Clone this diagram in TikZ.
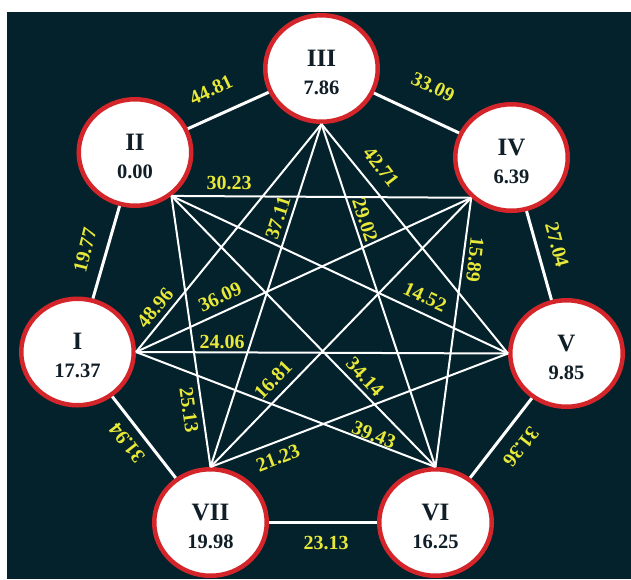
\documentclass[tikz,border=0pt]{standalone}
\usepackage{fontspec}
\setmainfont{Liberation Serif}
\usetikzlibrary{shapes.geometric}

\definecolor{bgdark}{RGB}{3,34,44}
\definecolor{ringred}{RGB}{212,38,42}
\definecolor{labelyellow}{RGB}{232,232,56}
\definecolor{inkdark}{RGB}{16,30,40}

\begin{document}
\begin{tikzpicture}[x=1pt,y=1pt,
  vertex/.style={ellipse, draw=ringred, fill=white, line width=4.5pt,
    minimum width=112.5pt, minimum height=106.5pt, inner sep=0pt},
  vtext/.style={align=center, text=inkdark, inner sep=0pt,
    font=\bfseries\fontsize{20.5}{28}\selectfont},
  rimedge/.style={draw=white, line width=3pt},
  chord/.style={draw=white, line width=2pt},
  wlabel/.style={text=labelyellow, inner sep=0pt,
    font=\bfseries\fontsize{20}{20}\selectfont}]

\useasboundingbox (0,0) rectangle (631,-579);
\fill[bgdark] (7,-12) rectangle (631,-579);

% vertices
\node[vertex] (n3) at (321.5,-68.5) {};
\node[vertex] (n2) at (135,-152.5) {};
\node[vertex] (n4) at (511.5,-157.5) {};
\node[vertex] (n1) at (77.5,-352) {};
\node[vertex] (n5) at (566.5,-353.5) {};
\node[vertex] (n7) at (210.5,-522.5) {};
\node[vertex] (n6) at (435.5,-522.5) {};

\node[vtext] (t3) at ([yshift=-3.5pt]n3.center) {{\fontsize{25}{28}\selectfont III}\\7.86};
\node[vtext] (t2) at ([yshift=-3.5pt]n2.center) {{\fontsize{25}{28}\selectfont II}\\0.00};
\node[vtext] (t4) at ([yshift=-3.5pt]n4.center) {{\fontsize{25}{28}\selectfont IV}\\6.39};
\node[vtext] (t1) at ([yshift=-3.5pt]n1.center) {{\fontsize{25}{28}\selectfont I}\\17.37};
\node[vtext] (t5) at ([yshift=-3.5pt]n5.center) {{\fontsize{25}{28}\selectfont V}\\9.85};
\node[vtext] (t7) at ([yshift=-3.5pt]n7.center) {{\fontsize{25}{28}\selectfont VII}\\19.98};
\node[vtext] (t6) at ([yshift=-3.5pt]n6.center) {{\fontsize{25}{28}\selectfont VI}\\16.25};

% outer ring of the heptagon
\draw[rimedge] (n2) -- (n3);
\draw[rimedge] (n3) -- (n4);
\draw[rimedge] (n4) -- (n5);
\draw[rimedge] (n5) -- (n6);
\draw[rimedge] (n6) -- (n7);
\draw[rimedge] (n7) -- (n1);
\draw[rimedge] (n1) -- (n2);

% inner chords
\draw[chord] (n3.south) -- (n1.east);
\draw[chord] (n3.south) -- (n5.west);
\draw[chord] (n3.south) -- (n7.north);
\draw[chord] (n3.south) -- (n6.north);
\draw[chord] (n2.-50) -- (n4.-135);
\draw[chord] (n2.-50) -- (n5.west);
\draw[chord] (n2.-50) -- (n7.north);
\draw[chord] (n2.-50) -- (n6.north);
\draw[chord] (n4.-135) -- (n1.east);
\draw[chord] (n4.-135) -- (n7.north);
\draw[chord] (n4.-135) -- (n6.north);
\draw[chord] (n1.east) -- (n5.west);
\draw[chord] (n1.east) -- (n6.north);
\draw[chord] (n5.west) -- (n7.north);

% weights on the outer ring
\node[wlabel, rotate=25]   (w23) at (211,-90)  {44.81};
\node[wlabel, rotate=-25]  (w34) at (433,-87)  {33.09};
\node[wlabel, rotate=76]   (w12) at (85,-250)  {19.77};
\node[wlabel, rotate=-75]  (w45) at (557,-245) {27.04};
\node[wlabel, rotate=128]  (w17) at (127,-443) {31.94};
\node[wlabel, rotate=-128] (w56) at (521,-447) {31.36};
\node[wlabel]              (w67) at (326,-543) {23.13};

% weights on the chords
\node[wlabel]              (w24) at (229,-183) {30.23};
\node[wlabel, rotate=-52]  (w35) at (381,-167) {42.71};
\node[wlabel, rotate=72]   (w37) at (278,-218) {37.11};
\node[wlabel, rotate=-72]  (w36) at (365,-220) {29.02};
\node[wlabel, rotate=50]   (w13) at (155,-308) {48.96};
\node[wlabel, rotate=24.6] (w14) at (220,-297) {36.09};
\node[wlabel]              (w15) at (222,-342) {24.06};
\node[wlabel, rotate=-24.8](w25) at (425,-297) {14.52};
\node[wlabel, rotate=-96]  (w46) at (475,-260) {15.89};
\node[wlabel, rotate=-82]  (w27) at (189,-410) {25.13};
\node[wlabel, rotate=-47]  (w26) at (365,-377) {34.14};
\node[wlabel, rotate=46]   (w47) at (273,-380) {16.81};
\node[wlabel, rotate=-22]  (w16) at (374,-435) {39.43};
\node[wlabel, rotate=21]   (w57) at (278,-458) {21.23};
\end{tikzpicture}
\end{document}
